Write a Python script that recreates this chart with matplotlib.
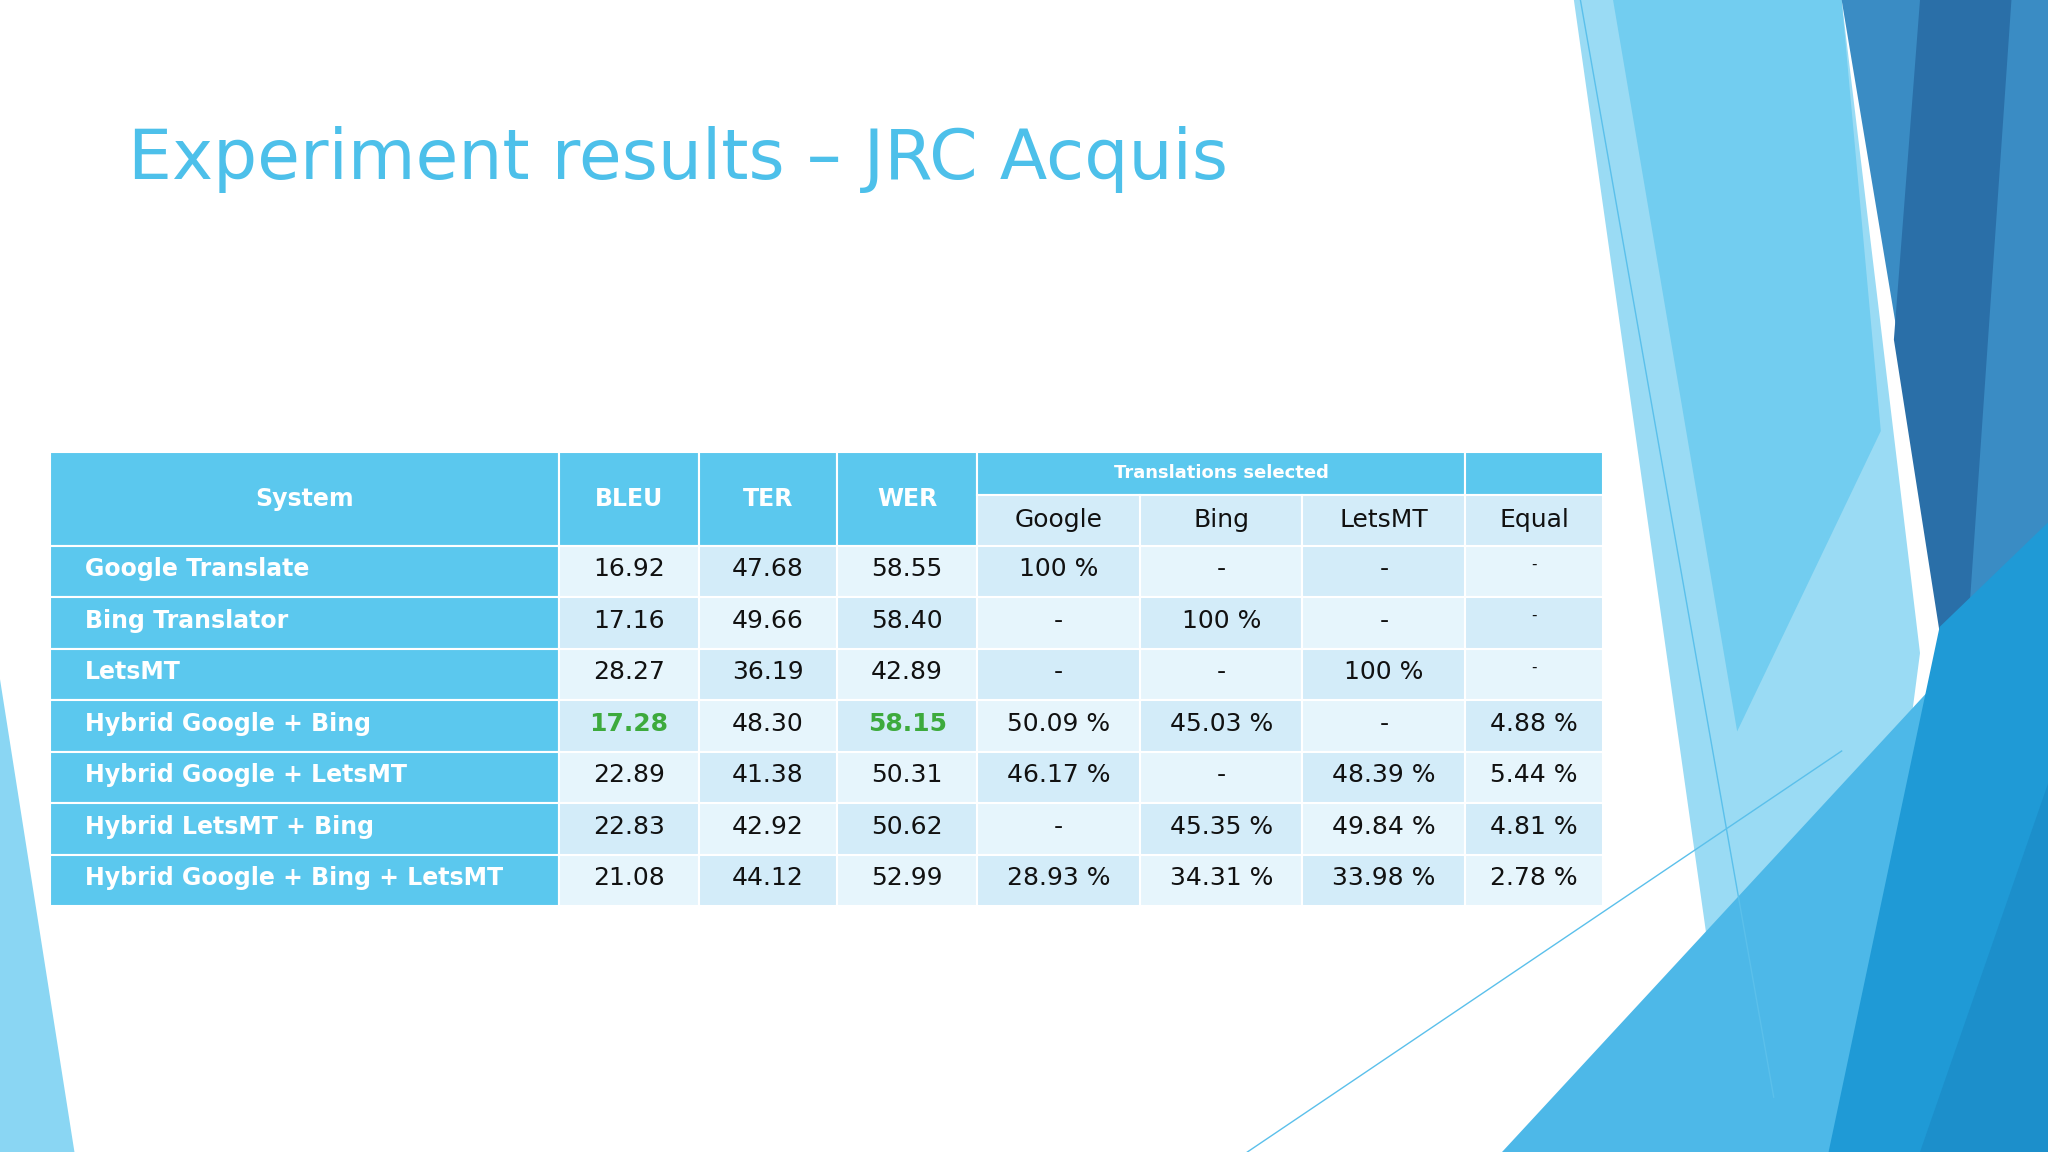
import matplotlib
matplotlib.use("Agg")
import matplotlib.pyplot as plt
from matplotlib.patches import Rectangle, Polygon

systems = ["Google Translate", "Bing Translator", "LetsMT", "Hybrid Google + Bing",
           "Hybrid Google + LetsMT", "Hybrid LetsMT + Bing", "Hybrid Google + Bing + LetsMT"]
bleu = ["16.92", "17.16", "28.27", "17.28", "22.89", "22.83", "21.08"]
ter = ["47.68", "49.66", "36.19", "48.30", "41.38", "42.92", "44.12"]
wer = ["58.55", "58.40", "42.89", "58.15", "50.31", "50.62", "52.99"]
google = ["100 %", "-", "-", "50.09 %", "46.17 %", "-", "28.93 %"]
bing = ["-", "100 %", "-", "45.03 %", "-", "45.35 %", "34.31 %"]
letsmt = ["-", "-", "100 %", "-", "48.39 %", "49.84 %", "33.98 %"]
equal = ["-", "-", "-", "4.88 %", "5.44 %", "4.81 %", "2.78 %"]
best_row = 3  # highlighted values (BLEU, WER)

W, H = 1568, 882
fig = plt.figure(figsize=(20.48, 11.52), dpi=100)
ax = fig.add_axes([0, 0, 1, 1])
ax.set_xlim(0, W); ax.set_ylim(H, 0); ax.axis("off")

# decoration
polys = [
    ([(1205, 0), (1410, 0), (1470, 500), (1420, 882), (1330, 882)], "#9ADBF4"),
    ([(1235, 0), (1410, 0), (1440, 330), (1330, 560)], "#72CDF0"),
    ([(1410, 0), (1568, 0), (1568, 470), (1500, 580), (1460, 300)], "#3A8CC4"),
    ([(1470, 0), (1540, 0), (1500, 580), (1450, 260)], "#2A6FA8"),
    ([(1150, 882), (1568, 430), (1568, 882)], "#4DB8E8"),
    ([(1400, 882), (1485, 480), (1568, 400), (1568, 882)], "#1F9AD6"),
    ([(1470, 882), (1568, 600), (1568, 882)], "#1C8FCB"),
    ([(0, 520), (57, 882), (0, 882)], "#8AD6F3"),
]
for pts, c in polys:
    ax.add_patch(Polygon(pts, closed=True, color=c, lw=0, zorder=1))
ax.plot([955, 1410], [882, 575], color="#5BC0EB", lw=1, zorder=2)
ax.plot([1210, 1358], [0, 840], color="#5BC0EB", lw=1, zorder=2)

ax.text(98, 122, "Experiment results – JRC Acquis", fontsize=50, color="#4DC0EA",
        va="center", ha="left", family="DejaVu Sans", zorder=5)

cols = [38, 428, 535, 641, 748, 873, 997, 1122, 1227]
hdr_top, hdr_mid, hdr_bot = 346, 379, 418
row_h = (694 - 418) / 7
blue = "#5BC8EE"
light1, light2 = "#E6F5FC", "#D3ECF9"

def cell(x0, y0, x1, y1, c):
    ax.add_patch(Rectangle((x0, y0), x1 - x0, y1 - y0, facecolor=c,
                           edgecolor="white", lw=1.5, zorder=3))

fs = 18
for i, lab in enumerate(["System", "BLEU", "TER", "WER"]):
    cell(cols[i], hdr_top, cols[i + 1], hdr_bot, blue)
    ax.text((cols[i] + cols[i + 1]) / 2, (hdr_top + hdr_bot) / 2, lab, color="white",
            fontsize=fs - 1, fontweight="bold", ha="center", va="center", zorder=4)
cell(cols[4], hdr_top, cols[7], hdr_mid, blue)
ax.text((cols[4] + cols[7]) / 2, (hdr_top + hdr_mid) / 2, "Translations selected",
        color="white", fontsize=13, fontweight="bold", ha="center", va="center", zorder=4)
cell(cols[7], hdr_top, cols[8], hdr_mid, blue)
for i, lab in enumerate(["Google", "Bing", "LetsMT", "Equal"]):
    cell(cols[4 + i], hdr_mid, cols[5 + i], hdr_bot, light2)
    ax.text((cols[4 + i] + cols[5 + i]) / 2, (hdr_mid + hdr_bot) / 2, lab, color="#111111",
            fontsize=fs, ha="center", va="center", zorder=4)

for r in range(len(systems)):
    y0 = hdr_bot + r * row_h
    y1 = y0 + row_h
    yc = (y0 + y1) / 2 - 2
    cell(cols[0], y0, cols[1], y1, blue)
    ax.text(cols[0] + 27, yc, systems[r], color="white", fontsize=fs - 1,
            fontweight="bold", ha="left", va="center", zorder=4)
    vals = [bleu[r], ter[r], wer[r], google[r], bing[r], letsmt[r], equal[r]]
    for j, v in enumerate(vals):
        c = light1 if (r + j) % 2 == 0 else light2
        cell(cols[1 + j], y0, cols[2 + j], y1, c)
        color, weight = "#111111", "normal"
        if r == best_row and j in (0, 2):
            color, weight = "#3DAA3D", "bold"
        size, yy = fs, yc
        if j == 6 and v == "-":
            size, yy = 11, yc - 4
        ax.text((cols[1 + j] + cols[2 + j]) / 2, yy, v, color=color, fontsize=size,
                fontweight=weight, ha="center", va="center", zorder=4)

fig.savefig("out.png", dpi=100, facecolor="white")
